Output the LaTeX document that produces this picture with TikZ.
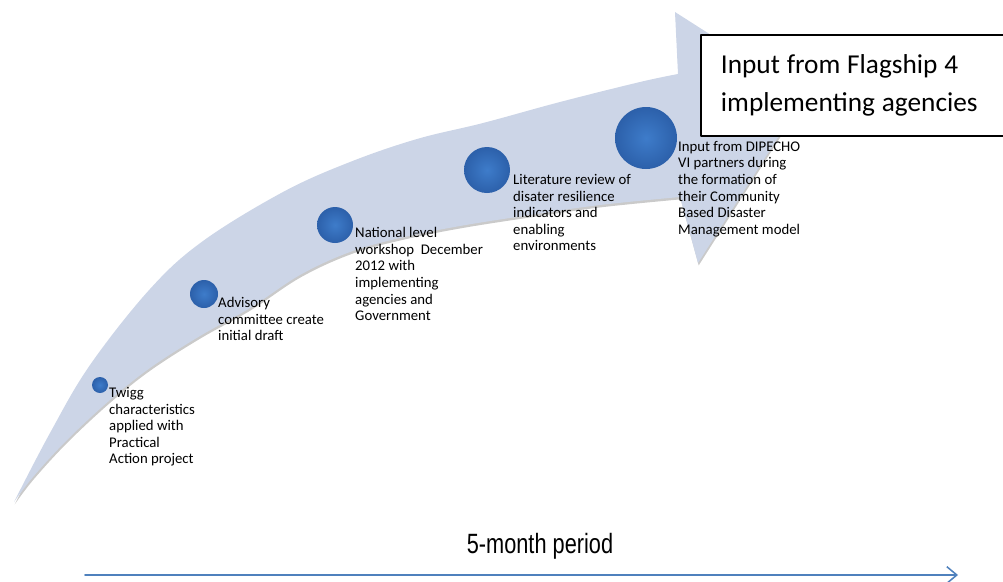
\documentclass[tikz,border=0pt]{standalone}
\usepackage{fontspec}
\setmainfont{Carlito}
\newfontfamily\periodfont{Liberation Sans}
\usepackage{graphicx}
\usetikzlibrary{arrows.meta}
\usetikzlibrary{shadows}

\definecolor{bandblue}{RGB}{204,213,231}
\definecolor{dotlight}{RGB}{62,124,202}
\definecolor{dotdark}{RGB}{44,96,170}
\definecolor{lineblue}{RGB}{79,129,189}

\newcommand\tightspace{\spaceskip=0.25em\relax}

\tikzset{
  milestone/.style={circle,inner sep=0pt,inner color=dotlight,outer color=dotdark},
  stepnote/.style={anchor=north west,inner sep=0pt,align=left,font=\fontsize{12.6}{14.2}\selectfont},
  flagbox/.style={draw,line width=1.6pt,fill=white,anchor=north west,minimum height=3.03cm,
    text width=8.6cm,inner xsep=0.6cm,align=left,font=\fontsize{23.3}{32}\selectfont},
}

\begin{document}
\begin{tikzpicture}[line cap=round,line join=round,x=0.03cm,y=-0.03cm]
\useasboundingbox (0,0) rectangle (1003,581);
\clip (0,0) rectangle (1003,581);
% curved band with its head
\fill [bandblue,drop shadow={shadow xshift=0.6pt,shadow yshift=-2pt,opacity=0.35,fill=black!60}]
  plot [smooth,tension=0.6] coordinates {(14,502) (50,433) (90,365) (150,289) (203,241) (283,192)
    (350,162) (417,139) (483,123) (560,102) (640,82) (678,74)}
  -- (675,12) -- (805,95) -- (698,263) -- (680,197)
  -- plot [smooth,tension=0.6] coordinates {(680,197) (600,205) (530,215) (460,226) (400,238)
    (350,252) (300,275) (250,308) (200,336) (150,368) (110,400) (67,440) (33,477) (14,502)}
  -- cycle;
% milestones
\node [milestone,minimum size=0.48cm] (twigg) at (100,385) {};
\node [milestone,minimum size=0.84cm] (advisory) at (204,294) {};
\node [milestone,minimum size=1.08cm] (national) at (335,225) {};
\node [milestone,minimum size=1.38cm] (literature) at (487,170) {};
\node [milestone,minimum size=1.86cm] (dipecho) at (646,138) {};
\node [stepnote] (twiggtext) at (109,387) {Twigg\\characteristics\\applied with\\Practical\\Action project};
\node [stepnote] (advisorytext) at (218,297) {Advisory\\committee create\\initial draft};
\node [stepnote] (nationaltext) at (355,227) {National level\\workshop\ \ December\\2012 with\\implementing\\agencies and\\Government};
\node [stepnote] (literaturetext) at (513,174) {Literature review of\\disater resilience\\indicators and\\enabling\\environments};
\node [stepnote] (dipechotext) at (678,141) {Input from DIPECHO\\VI partners during\\the formation of\\their Community\\Based Disaster\\Management model};
% box at the head
\node [flagbox] (flagship) at (700,34) {\tightspace Input from Flagship 4\\implementing agencies};
% time line
\coordinate (tstart) at (85,575);
\coordinate (tend) at (958,575);
\draw [lineblue,line width=1.3pt,-{Straight Barb[length=0.3cm,width=0.5cm]}] (tstart) -- (tend);
\node [anchor=base,inner sep=0pt,font=\periodfont\fontsize{23.8}{28}\selectfont] (period) at (540,553)
  {\scalebox{0.78}[1]{5-month period}};
\end{tikzpicture}
\end{document}
